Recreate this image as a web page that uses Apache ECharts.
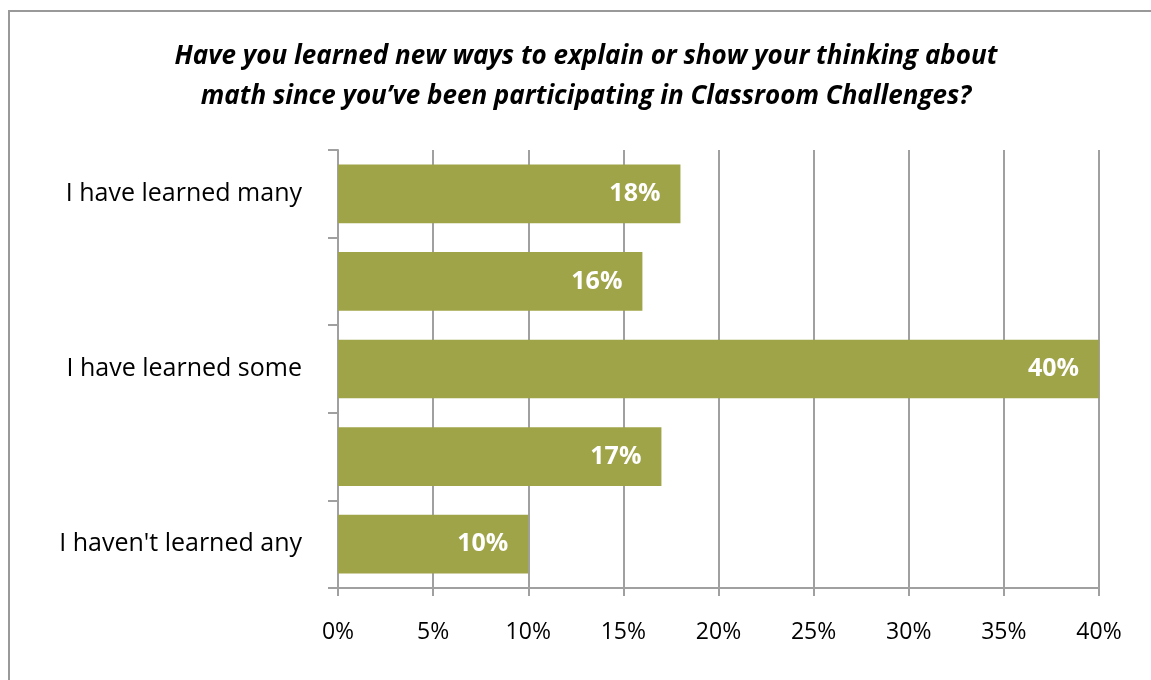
<!DOCTYPE html>
<html>
<head>
<meta charset="utf-8">
<script src="https://cdn.jsdelivr.net/npm/echarts@6/dist/echarts.min.js"></script>
<style>
  html, body { margin: 0; padding: 0; background: #fff; }
  #chart { width: 1151px; height: 680px; }
</style>
</head>
<body>
<div id="chart"></div>
<script>
// Survey responses, top to bottom
const categories = ['I have learned many', '', 'I have learned some', '', "I haven't learned any"];
const shares = [18, 16, 40, 17, 10];
const tickLabels = ['0%', '5%', '10%', '15%', '20%', '25%', '30%', '35%', '40%'];

const titleLines = [
  'Have you learned new ways to explain or show your thinking about',
  'math since you\u2019ve been participating in Classroom Challenges?'
];

const FONT = '"Open Sans", Lato, sans-serif';
const GRID_GRAY = '#a0a0a0';

const chart = echarts.init(document.getElementById('chart'), null, { renderer: 'canvas' });

chart.setOption({
  animation: false,
  backgroundColor: '#fff',
  title: {
    text: titleLines.join('\n'),
    left: 581,
    textAlign: 'center',
    top: 32,
    textStyle: {
      fontFamily: FONT,
      fontSize: 26,
      fontWeight: 'bold',
      fontStyle: 'italic',
      color: '#000',
      lineHeight: 40
    }
  },
  graphic: [{
    type: 'rect',
    shape: { x: 9, y: 11, width: 1200, height: 720 },
    style: { fill: 'none', stroke: '#999', lineWidth: 2 },
    silent: true
  }],
  grid: { left: 338, right: 52, top: 150, bottom: 92, containLabel: false },
  xAxis: {
    type: 'value',
    min: 0,
    max: 40,
    interval: 5,
    axisLine: { show: true, lineStyle: { color: GRID_GRAY, width: 2 } },
    axisTick: { show: true, length: 8, lineStyle: { color: GRID_GRAY, width: 2 } },
    splitLine: { show: true, lineStyle: { color: GRID_GRAY, width: 2 } },
    axisLabel: {
      margin: 33,
      fontFamily: FONT,
      fontSize: 23,
      color: '#000',
      formatter: (v) => tickLabels[Math.round(v / 5)]
    }
  },
  yAxis: {
    type: 'category',
    inverse: true,
    data: categories,
    axisLine: { show: true, lineStyle: { color: GRID_GRAY, width: 2 } },
    axisTick: { show: true, length: 10, alignWithLabel: false, lineStyle: { color: GRID_GRAY, width: 2 } },
    splitLine: { show: false },
    axisLabel: {
      margin: 36,
      fontFamily: FONT,
      fontSize: 25,
      color: '#000'
    }
  },
  series: [{
    type: 'bar',
    data: shares,
    barCategoryGap: '33%',
    itemStyle: { color: '#9fa448' },
    label: {
      show: true,
      position: 'insideRight',
      distance: 20,
      formatter: (p) => p.value + '%',
      fontFamily: FONT,
      fontSize: 25,
      fontWeight: 'bold',
      color: '#fff'
    }
  }]
});
</script>
</body>
</html>
